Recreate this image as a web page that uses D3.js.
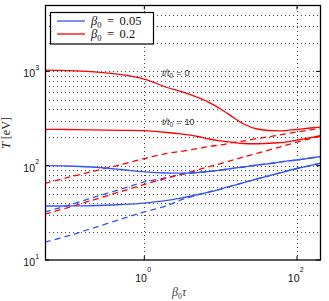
<!DOCTYPE html>
<html>
<head>
<meta charset="utf-8">
<script src="https://cdn.jsdelivr.net/npm/d3@7"></script>
<style>
  body { margin: 0; background: #fff; }
  svg text { font-family: "Liberation Sans", Arial, sans-serif; }
  .math { font-family: "Liberation Serif", "DejaVu Serif", serif; }
</style>
</head>
<body>
<div id="chart"></div>
<script>
// beta0 * tau sample points (x axis)
const betaTau = [0.05, 0.1, 0.2, 0.5, 1, 2, 3, 5, 7, 10, 15, 20, 30, 50, 70, 100, 150, 200];

// T [eV], beta0 = 0.2 (red)
const redT0 = [1030, 1020, 995, 925, 830, 675, 615, 530, 470, 400, 320, 277, 245, 235, 236, 242, 251, 257];
const redT10 = [243, 242, 240, 237, 235, 225, 217, 204, 192, 183, 176, 172, 171, 174, 178, 187, 199, 209];
const redDashA = [65, 75, 86, 103, 119, 135, 142, 152, 160, 166, 177, 183, 194, 207, 217, 228, 240, 250];
const redDashB = [30.7, 36, 42.6, 53.3, 63.2, 74.1, 80.7, 90, 97.6, 105.5, 115.8, 123.7, 135.4, 152, 163.8, 178, 194.3, 204];

// T [eV], beta0 = 0.05 (blue)
const blueT0 = [100, 99.3, 96.9, 91.1, 86.2, 83.7, 83.3, 84.7, 86.8, 90, 94.1, 96.9, 101.7, 106.8, 111.4, 115, 120.7, 124.6];
const blueT10 = [37.4, 37.4, 37.6, 38.8, 40.2, 42.8, 45.4, 49.5, 52.6, 56.6, 62, 66.3, 72.3, 80.7, 86.8, 93.4, 100.5, 106];
const blueDashA = [32.3, 38, 45.2, 56.6, 67.2, 75, 80.7, 84.7, 86.8, 90, 94.1, 96.9, 101.7, 106.8, 111.4, 115, 120.7, 124.6];
const blueDashB = [15.5, 18, 21.5, 27.2, 32.3, 37.8, 43.3, 48.9, 52.6, 56.6, 62, 66.3, 72.3, 80.7, 86.8, 93.4, 100.5, 106];

const xTicks = [1, 100];
const yTicks = [10, 100, 1000];
const legendLabels = ["0.05", "0.2"];
const noteLabels = ["0", "10"];

const width = 329, height = 301;
const margin = { left: 45, right: 9, top: 5.5, bottom: 41 };
const blue = "#3355f5", red = "#ff0000";

const svg = d3.select("#chart").append("svg")
  .attr("width", width)
  .attr("height", height);

const x = d3.scaleLog().domain([0.05, 200]).range([margin.left, width - margin.right]);
const y = d3.scaleLog().domain([10, 5000]).range([height - margin.bottom, margin.top]);

// grid
const yGrid = [];
[10, 100, 1000].forEach(dec => {
  for (let k = 1; k <= 9; k++) {
    const v = dec * k;
    if (v > 10 && v < 5000) yGrid.push(v);
  }
});

svg.append("g").selectAll("line")
  .data(yGrid)
  .join("line")
  .attr("x1", x.range()[0]).attr("x2", x.range()[1])
  .attr("y1", d => Math.round(y(d)) + 0.5).attr("y2", d => Math.round(y(d)) + 0.5)
  .attr("stroke", "#444").attr("stroke-width", 1)
  .attr("stroke-dasharray", "1,3");

svg.append("g").selectAll("line")
  .data(xTicks)
  .join("line")
  .attr("x1", d => Math.round(x(d)) + 0.5).attr("x2", d => Math.round(x(d)) + 0.5)
  .attr("y1", y.range()[0]).attr("y2", y.range()[1])
  .attr("stroke", "#444").attr("stroke-width", 1)
  .attr("stroke-dasharray", "1,3");

// curves
const line = d3.line()
  .x((d, i) => x(betaTau[i]))
  .y(d => y(d))
  .curve(d3.curveCatmullRom.alpha(0.5));

const series = [
  { v: blueDashA, c: blue, dash: "6,4" },
  { v: blueDashB, c: blue, dash: "6,4" },
  { v: redDashA, c: red, dash: "6,4" },
  { v: redDashB, c: red, dash: "6,4" },
  { v: blueT0, c: blue, dash: null },
  { v: blueT10, c: blue, dash: null },
  { v: redT0, c: red, dash: null },
  { v: redT10, c: red, dash: null }
];

svg.append("defs").append("clipPath").attr("id", "clip")
  .append("rect")
  .attr("x", margin.left).attr("y", margin.top)
  .attr("width", x.range()[1] - margin.left)
  .attr("height", y.range()[0] - margin.top);

svg.append("g").attr("clip-path", "url(#clip)")
  .selectAll("path")
  .data(series)
  .join("path")
  .attr("d", d => line(d.v))
  .attr("fill", "none")
  .attr("stroke", d => d.c)
  .attr("stroke-width", 1.3)
  .attr("stroke-dasharray", d => d.dash);

// annotations t/t0
const noteG = svg.append("g").attr("class", "math")
  .attr("fill", "#333").style("font-size", "9px");
noteG.selectAll("text")
  .data(noteLabels)
  .join("text")
  .attr("x", 162)
  .attr("y", (d, i) => i === 0 ? 75.5 : 124.5)
  .each(function (d) {
    const t = d3.select(this);
    t.append("tspan").style("font-style", "italic").text("t/t");
    t.append("tspan").attr("dy", 2).style("font-size", "6.5px").text("0");
    t.append("tspan").attr("dy", -2).attr("dx", 3).text("=");
    t.append("tspan").attr("dx", 3).text(d);
  });

// box
svg.append("rect")
  .attr("x", margin.left + 0.5).attr("y", margin.top)
  .attr("width", x.range()[1] - margin.left)
  .attr("height", y.range()[0] - margin.top)
  .attr("fill", "none").attr("stroke", "#000").attr("stroke-width", 1.3);

// ticks
const tickLen = 4;
yTicks.forEach(v => {
  const yy = y(v);
  svg.append("line").attr("x1", margin.left).attr("x2", margin.left + tickLen)
    .attr("y1", yy).attr("y2", yy).attr("stroke", "#000");
  svg.append("line").attr("x1", x.range()[1] - tickLen).attr("x2", x.range()[1])
    .attr("y1", yy).attr("y2", yy).attr("stroke", "#000");
  svg.append("text").attr("x", 35).attr("y", yy + 6)
    .attr("text-anchor", "end").style("font-size", "10.5px").attr("fill", "#111").text("10");
  svg.append("text").attr("x", 35.2).attr("y", yy - 1.5)
    .style("font-size", "7px").attr("fill", "#111").text(Math.round(Math.log10(v)));
});

xTicks.forEach(v => {
  const xx = x(v);
  svg.append("line").attr("x1", xx).attr("x2", xx)
    .attr("y1", y.range()[0]).attr("y2", y.range()[0] - tickLen).attr("stroke", "#000");
  svg.append("line").attr("x1", xx).attr("x2", xx)
    .attr("y1", margin.top).attr("y2", margin.top + tickLen).attr("stroke", "#000");
  svg.append("text").attr("x", xx + 2.5).attr("y", 281.5)
    .attr("text-anchor", "end").style("font-size", "10.5px").attr("fill", "#111").text("10");
  svg.append("text").attr("x", xx + 2.8).attr("y", 272)
    .style("font-size", "7px").attr("fill", "#111").text(Math.round(Math.log10(v)));
});

// axis labels
const yl = svg.append("text").attr("class", "math")
  .attr("transform", "translate(10,133) rotate(-90)")
  .attr("text-anchor", "middle").style("font-size", "12px").attr("fill", "#222");
yl.append("tspan").style("font-style", "italic").text("T");
yl.append("tspan").text(" [eV]");

const xl = svg.append("text").attr("class", "math")
  .attr("x", 172).attr("y", 296).style("font-size", "12px").attr("fill", "#444")
  .style("font-style", "italic");
xl.append("tspan").text("β");
xl.append("tspan").attr("dy", 3).style("font-size", "8px").style("font-style", "normal").text("0");
xl.append("tspan").attr("dy", -3).text("τ");

// legend
const lg = svg.append("g");
lg.append("rect")
  .attr("x", 50.5).attr("y", 12.5).attr("width", 103).attr("height", 31.5)
  .attr("fill", "#fff").attr("stroke", "#000").attr("stroke-width", 1.2);
lg.selectAll("line")
  .data([blue, red])
  .join("line")
  .attr("x1", 57).attr("x2", 85)
  .attr("y1", (d, i) => 21 + i * 13).attr("y2", (d, i) => 21 + i * 13)
  .attr("stroke", d => d).attr("stroke-width", 1.3);
lg.selectAll("text")
  .data(legendLabels)
  .join("text")
  .attr("class", "math")
  .attr("x", 91)
  .attr("y", (d, i) => 25 + i * 13)
  .style("font-size", "12.5px")
  .attr("fill", "#111")
  .each(function (d) {
    const t = d3.select(this);
    t.append("tspan").style("font-style", "italic").text("β");
    t.append("tspan").attr("dy", 2.5).style("font-size", "8.5px").text("0");
    t.append("tspan").attr("dy", -2.5).attr("dx", 5.5).text("=");
    t.append("tspan").attr("dx", 5.5).text(d);
  });
</script>
</body>
</html>
